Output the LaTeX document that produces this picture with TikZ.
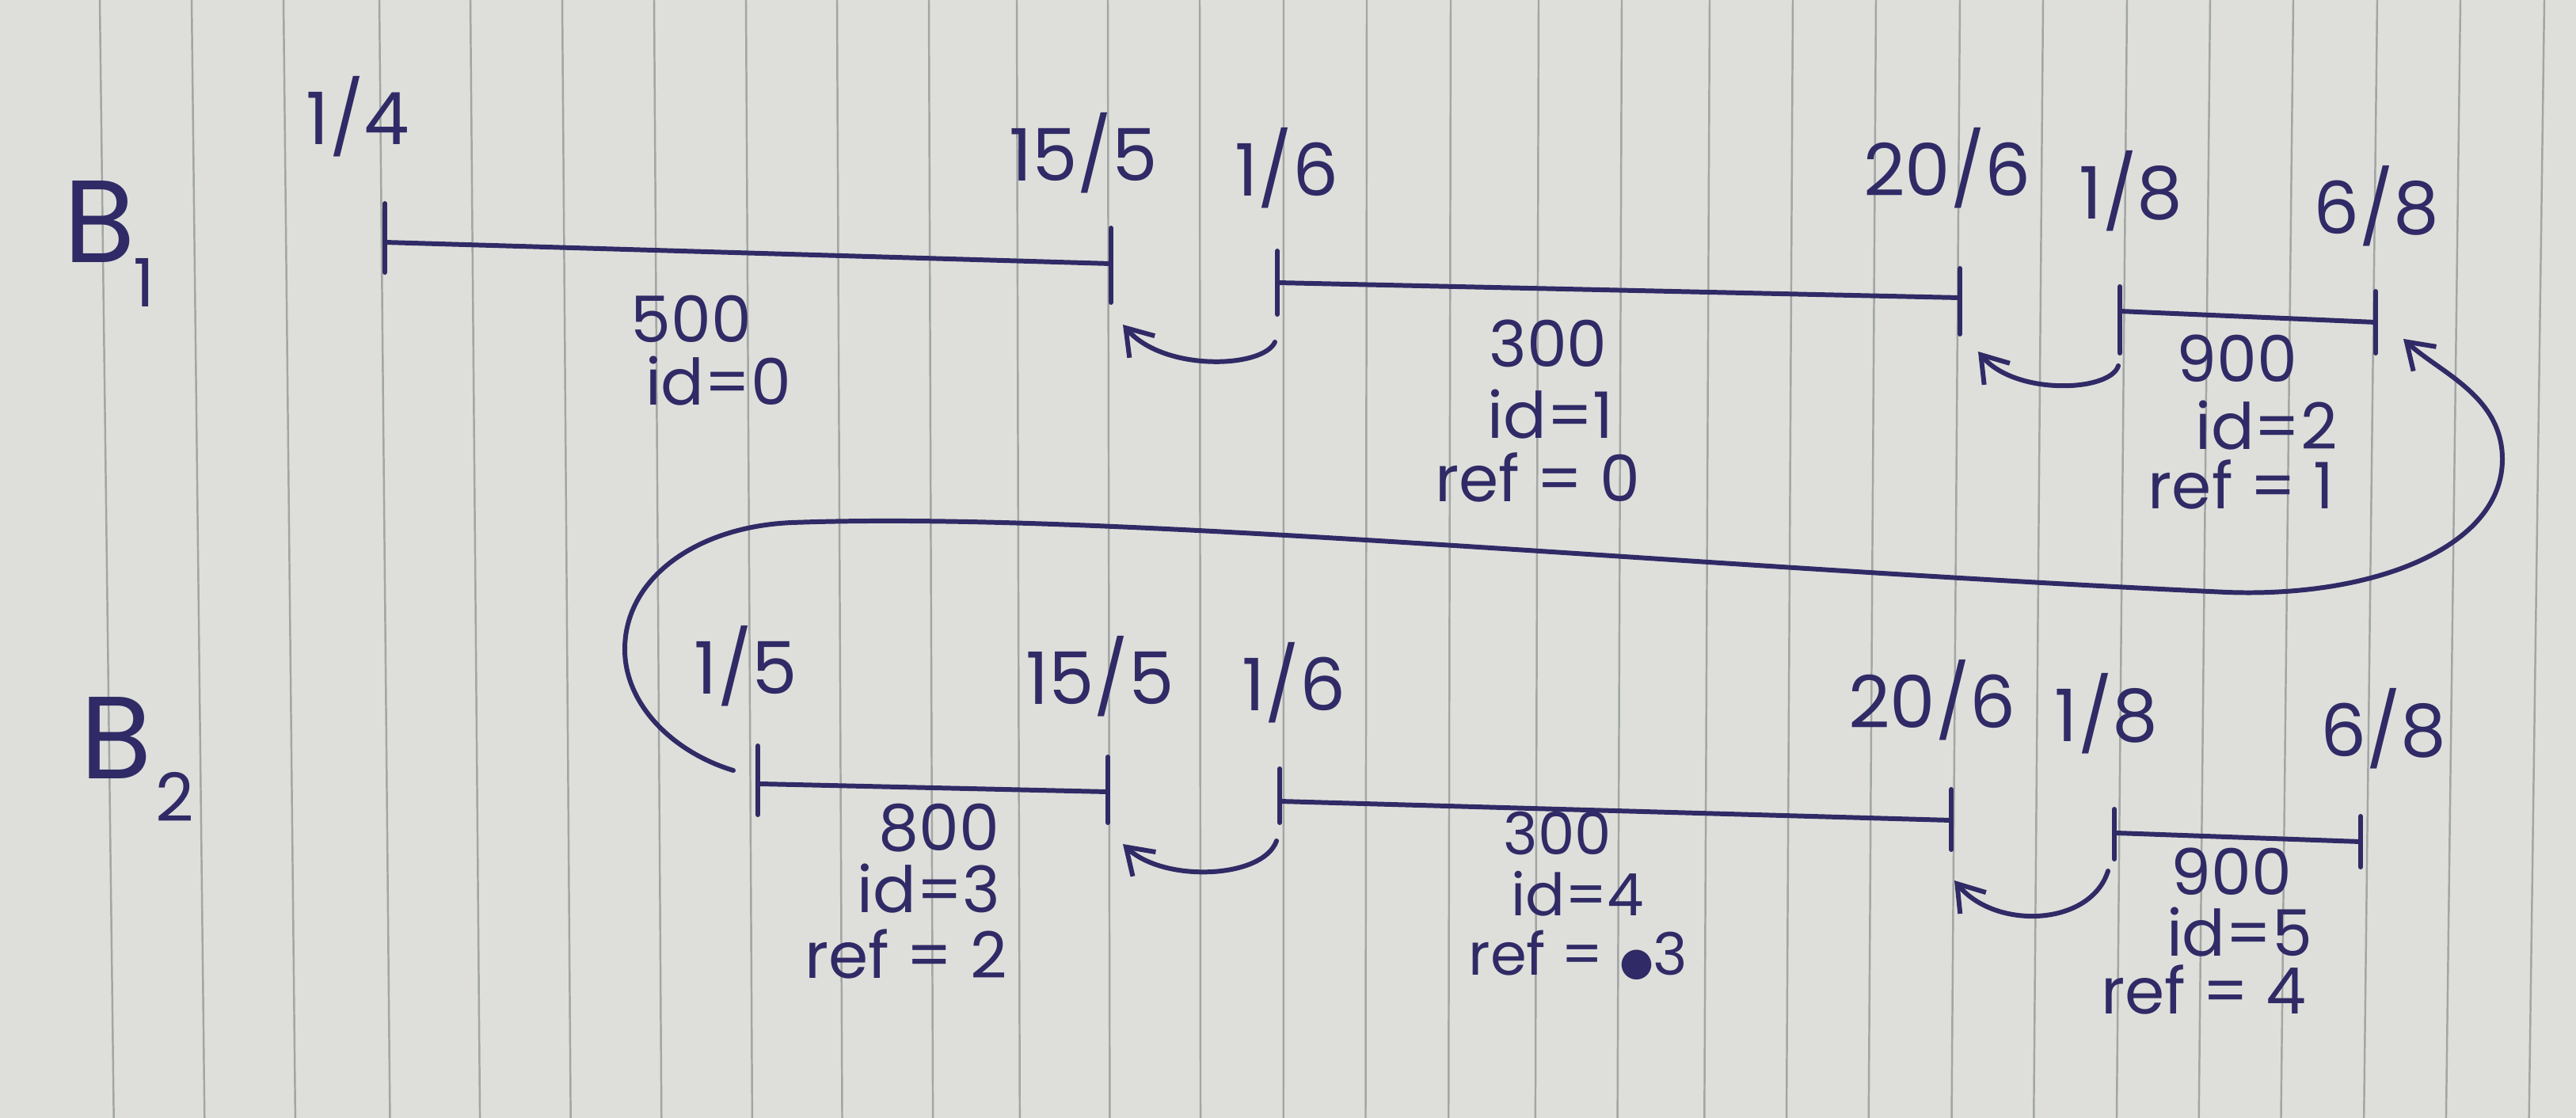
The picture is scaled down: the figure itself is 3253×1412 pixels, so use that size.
\documentclass[tikz,border=0pt]{standalone}
\usepackage{fontspec}
\setmainfont{Poppins}
\newfontfamily\symfont{DejaVu Sans}
\usetikzlibrary{arrows.meta}
\definecolor{paper}{HTML}{DEDFDA}
\definecolor{ruling}{HTML}{A2A6A4}
\definecolor{ink}{RGB}{48,42,102}
\begin{document}
\begin{tikzpicture}[x=0.01cm,y=-0.01cm,
  pen/.style={draw=ink,line width=1.7pt,line cap=round},
  arr/.style={pen,-{Straight Barb[length=9pt,width=12pt]}},
  rulestyle/.style={draw=ruling,line width=0.7pt},
  datelbl/.style={text=ink,font=\fontsize{26}{28}\selectfont,inner sep=0pt},
  vallbl/.style={text=ink,font=\fontsize{23}{25}\selectfont,inner sep=0pt},
  tightlbl/.style={text=ink,font=\fontsize{21}{23}\selectfont,inner sep=0pt},
  biglbl/.style={text=ink,font=\fontsize{42}{44}\selectfont,inner sep=0pt},
  sublbl/.style={text=ink,font=\fontsize{24}{26}\selectfont,inner sep=0pt}]
\useasboundingbox (0,0) rectangle (3253,1412);
\fill[paper] (0,0) rectangle (3253,1412);
\foreach \x in {126,242,358,479,594,710,826,942,1057,1173,1284,1399,1515,1621,1726,1832,1943,2048,2159,2264,2369,2475,2580,2686,2791,2896,3002,3107,3213}{
  \pgfmathsetmacro\xb{\x+(1600-\x)*0.012}
  \draw[rulestyle] (\x,0) -- (\xb,1412);
}
% ---------- row B1 ----------
\node[biglbl] (b1) at (126,280) {B};
\node[sublbl] (b1s) at (182,357) {1};
\coordinate (a0t) at (486,257); \coordinate (a0b) at (486,344); \coordinate (a0) at (486,306);
\coordinate (a1t) at (1403,288); \coordinate (a1b) at (1403,382); \coordinate (a1) at (1403,333);
\coordinate (a2t) at (1613,317); \coordinate (a2b) at (1613,397); \coordinate (a2) at (1613,357);
\coordinate (a3t) at (2475,339); \coordinate (a3b) at (2475,422); \coordinate (a3) at (2475,376);
\coordinate (a4t) at (2677,362); \coordinate (a4b) at (2677,446); \coordinate (a4) at (2677,393);
\coordinate (a5t) at (3000,368); \coordinate (a5b) at (3000,446); \coordinate (a5) at (3000,407);
\foreach \t in {0,...,5}{\draw[pen] (a\t t) -- (a\t b);}
\draw[pen] (a0) -- (a1);
\draw[pen] (a2) -- (a3);
\draw[pen] (a4) -- (a5);
\node[datelbl] (d1) at (452,147) {1/4};
\node[datelbl] (d2) at (1368,193) {15/5};
\node[datelbl] (d3) at (1625,212) {1/6};
\node[datelbl] (d4) at (2459,212) {20/6};
\node[datelbl] (d5) at (2691,241) {1/8};
\node[datelbl] (d6) at (3001,260) {6/8};
\node[vallbl] (v0) at (873,403) {500};
\node[vallbl] (i0) at (907,481) {id=0};
\node[vallbl] (v1) at (1955,434) {300};
\node[vallbl] (i1) at (1958,523) {id=1};
\node[vallbl] (f1) at (1942,603) {ref = 0};
\node[vallbl] (v2) at (2825,453) {900};
\node[vallbl] (i2) at (2862,537) {id=2};
\node[vallbl] (f2) at (2830,612) {ref = 1};
% ---------- row B2 ----------
\node[biglbl] (b2) at (147,932) {B};
\node[sublbl] (b2s) at (221,1006) {2};
\coordinate (c0t) at (957,942); \coordinate (c0b) at (957,1029); \coordinate (c0) at (960,990);
\coordinate (c1t) at (1399,956); \coordinate (c1b) at (1399,1039); \coordinate (c1) at (1399,1000);
\coordinate (c2t) at (1616,971); \coordinate (c2b) at (1616,1039); \coordinate (c2) at (1616,1012);
\coordinate (c3t) at (2464,997); \coordinate (c3b) at (2464,1073); \coordinate (c3) at (2464,1036);
\coordinate (c4t) at (2670,1022); \coordinate (c4b) at (2670,1085); \coordinate (c4) at (2672,1052);
\coordinate (c5t) at (2981,1031); \coordinate (c5b) at (2981,1095); \coordinate (c5) at (2981,1063);
\foreach \t in {0,...,5}{\draw[pen] (c\t t) -- (c\t b);}
\draw[pen] (c0) -- (c1);
\draw[pen] (c2) -- (c3);
\draw[pen] (c4) -- (c5);
\node[datelbl] (e1) at (942,841) {1/5};
\node[datelbl] (e2) at (1389,854) {15/5};
\node[datelbl] (e3) at (1634,862) {1/6};
\node[datelbl] (e4) at (2440,884) {20/6};
\node[datelbl] (e5) at (2660,901) {1/8};
\node[datelbl] (e6) at (3010,920) {6/8};
\node[vallbl] (v3) at (1186,1046) {800};
\node[vallbl] (i3) at (1173,1122) {id=3};
\node[vallbl] (f3) at (1144,1205) {ref = 2};
\node[tightlbl] (v4) at (1967,1052) {300};
\node[tightlbl] (i4) at (1992,1129) {id=4};
\node[tightlbl] (f4) at (1993,1206) {ref = {\symfont\fontsize{14}{14}\selectfont ●}3};
\node[vallbl] (v5) at (2818,1101) {900};
\node[vallbl] (i5) at (2828,1177) {id=5};
\node[vallbl] (f5) at (2783,1250) {ref = 4};
% ---------- reference arrows ----------
\coordinate (r1s) at (1610,432); \coordinate (r1e) at (1418,410);
\coordinate (r2s) at (2675,462); \coordinate (r2e) at (2498,444);
\coordinate (r3s) at (1612,1062); \coordinate (r3e) at (1418,1066);
\coordinate (r4s) at (2662,1100); \coordinate (r4e) at (2468,1112);
\coordinate (L0) at (926,973); \coordinate (L1) at (3035,428);
\draw[arr] (r1s) .. controls (1595,465) and (1470,470) .. (r1e);
\draw[arr] (r2s) .. controls (2665,495) and (2545,500) .. (r2e);
\draw[arr] (r3s) .. controls (1595,1110) and (1470,1115) .. (r3e);
\draw[arr] (r4s) .. controls (2640,1170) and (2520,1175) .. (r4e);
\draw[arr] (L0) .. controls (850,950) and (789,890) .. (789,820)
  .. controls (789,730) and (880,665) .. (1000,660)
  .. controls (1400,645) and (2100,715) .. (2812,748)
  .. controls (3000,755) and (3160,690) .. (3160,580)
  .. controls (3160,500) and (3080,470) .. (L1);
\end{tikzpicture}
\end{document}
